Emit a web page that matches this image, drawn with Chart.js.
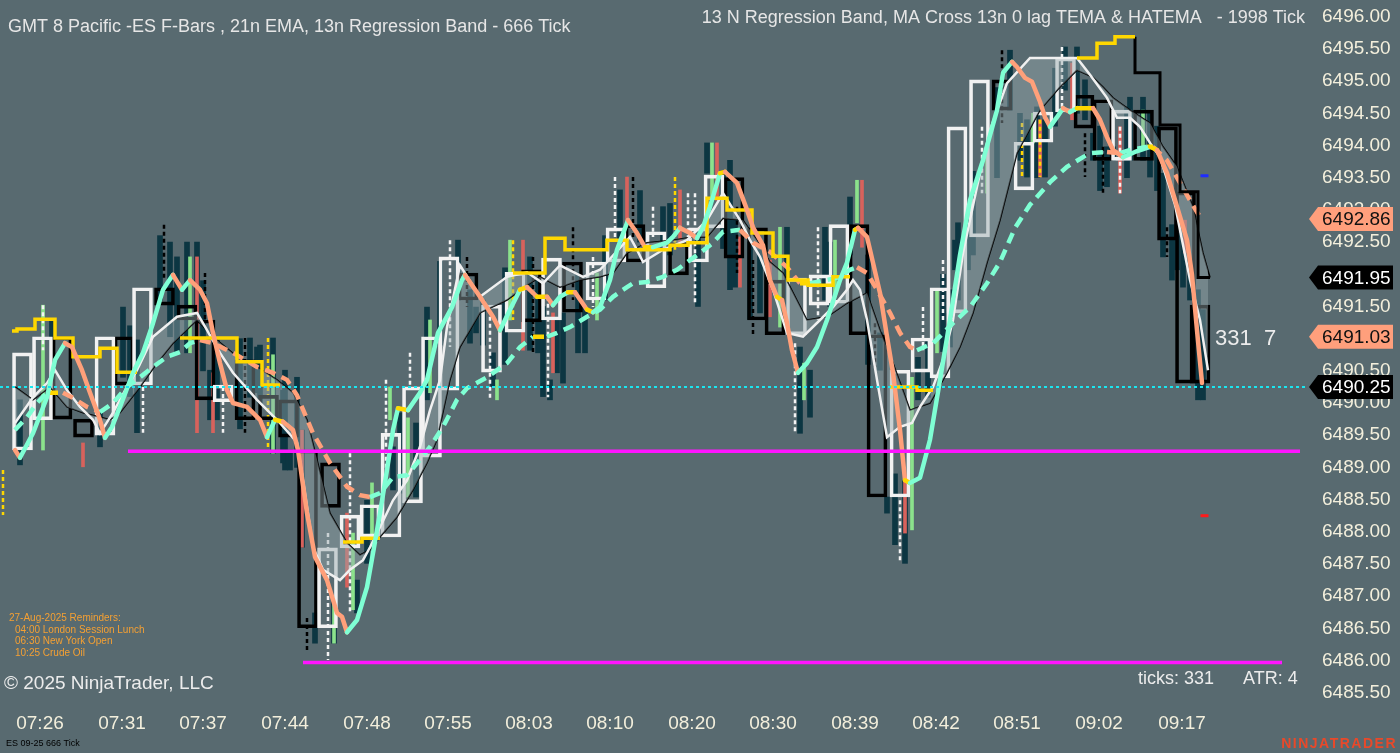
<!DOCTYPE html>
<html lang="en">
<head>
<meta charset="UTF-8">
<title>ES 09-25 666 Tick</title>
<script src="https://cdn.jsdelivr.net/npm/chart.js"></script>
<style>
  html, body { margin: 0; padding: 0; background: #586a70; overflow: hidden; }
  #wrap { width: 1400px; height: 753px; }
</style>
</head>
<body>
<div id="wrap"><canvas id="chart" width="1400" height="753"></canvas></div>
<script>
// ---- axes ----
const timeLabels = ['07:26', '07:31', '07:37', '07:44', '07:48', '07:55', '08:03', '08:10', '08:20', '08:30', '08:39', '08:42', '08:51', '09:02', '09:17'];
const timePos = [4.0, 12.2, 20.3, 28.5, 36.7, 44.8, 52.9, 61.0, 69.2, 77.3, 85.5, 93.6, 101.7, 109.9, 118.2];
const priceTicks = [6485.5, 6486, 6486.5, 6487, 6487.5, 6488, 6488.5, 6489, 6489.5, 6490, 6490.5, 6491, 6491.5, 6492, 6492.5, 6493, 6493.5, 6494, 6494.5, 6495, 6495.5, 6496];

// ---- 1998 tick bars (hollow bodies) ----
const boxX = [2.25, 4.25, 6.2, 8.35, 10.5, 12.4, 14.25, 16.45, 18.7, 20.5, 22.3, 24.5, 26.85, 28.85, 30.75, 33.05, 32.75, 35.0, 37.0, 39.1, 41.25, 43.15, 44.9, 46.8, 49.15, 51.5, 53.15, 55.15, 57.25, 59.6, 61.6, 63.5, 65.6, 67.85, 69.85, 71.4, 73.4, 75.75, 77.5, 79.65, 81.9, 83.9, 85.9, 87.7, 90.0, 92.1, 94.0, 95.7, 97.95, 100.2, 102.4, 104.3, 106.55, 108.4, 110.3, 112.15, 114.35, 116.75, 118.55, 120.0];
const boxOpen = [6489.27, 6489.74, 6491.03, 6489.75, 6489.50, 6491.03, 6490.28, 6491.79, 6491.52, 6491.29, 6490.02, 6490.67, 6490.12, 6490.05, 6489.27, 6489.07, 6486.51, 6487.75, 6487.92, 6487.92, 6488.45, 6489.16, 6490.20, 6492.02, 6490.48, 6491.10, 6492.07, 6491.29, 6492.19, 6491.60, 6492.19, 6492.77, 6491.79, 6492.49, 6492.19, 6492.72, 6493.50, 6492.72, 6491.91, 6491.06, 6491.52, 6491.55, 6492.77, 6491.06, 6488.54, 6490.48, 6490.39, 6491.40, 6492.58, 6495.02, 6493.31, 6494.05, 6494.52, 6494.78, 6494.71, 6493.77, 6494.55, 6494.29, 6493.28, 6491.52];
const boxClose = [6490.78, 6491.03, 6489.75, 6489.47, 6491.03, 6490.28, 6491.79, 6491.52, 6491.29, 6490.05, 6490.28, 6489.74, 6489.74, 6489.47, 6486.51, 6488.38, 6487.75, 6488.26, 6488.42, 6489.53, 6490.25, 6491.03, 6492.27, 6491.60, 6491.52, 6492.03, 6491.26, 6492.25, 6491.41, 6492.19, 6492.72, 6492.19, 6492.66, 6491.99, 6492.72, 6493.54, 6492.25, 6491.29, 6491.06, 6491.94, 6491.99, 6492.77, 6491.06, 6488.54, 6490.51, 6491.01, 6491.79, 6494.29, 6495.02, 6494.55, 6494.05, 6494.52, 6495.36, 6494.27, 6493.77, 6494.55, 6493.77, 6492.53, 6490.31, 6490.31];

// ---- 666 tick bars ----
const tickX = [2.0, 5.2, 10.0, 12.3, 13.7, 17.0, 17.7, 18.7, 19.7, 21.0, 21.7, 25.0, 25.7, 27.3, 28.5, 29.0, 28.3, 30.2, 31.5, 33.4, 35.7, 36.7, 39.3, 40.0, 41.6, 42.7, 45.8, 47.0, 47.6, 49.3, 53.0, 53.8, 55.0, 55.7, 56.3, 57.8, 58.5, 62.0, 66.3, 70.7, 73.0, 73.5, 76.0, 78.7, 80.0, 81.0, 82.5, 88.0, 88.7, 90.5, 91.8, 92.8, 95.0, 95.8, 95.5, 96.8, 101.0, 102.0, 102.7, 104.5, 106.5, 107.7, 108.5, 109.3, 110.7, 111.3, 113.0, 114.3, 115.0, 116.3, 117.7, 119.0, 119.8, 120.3, 117.2,
  13.0, 16.0, 20.3, 24.0, 26.0, 29.7, 44.0, 48.3, 50.5, 54.3, 60.5, 64.0, 67.0, 69.8, 72.3, 75.0, 83.0, 85.0, 86.8, 89.5, 94.3, 97.3, 99.7, 103.7, 105.5, 110.0, 112.7, 115.7, 118.3];
const tickHigh = [6490.05, 6491.29, 6489.85, 6491.49, 6490.98, 6492.50, 6492.27, 6492.50, 6492.50, 6490.51, 6490.98, 6491.01, 6490.87, 6491.01, 6490.51, 6489.27, 6490.20, 6489.58, 6486.74, 6486.99, 6487.25, 6488.49, 6489.32, 6489.85, 6489.69, 6491.49, 6492.53, 6491.76, 6491.49, 6490.78, 6492.27, 6491.91, 6490.36, 6491.29, 6491.40, 6492.02, 6491.49, 6493.31, 6493.05, 6494.04, 6493.77, 6492.84, 6492.38, 6492.73, 6490.87, 6490.51, 6492.73, 6491.09, 6488.54, 6488.80, 6490.71, 6490.98, 6491.76, 6492.80, 6492.53, 6492.84, 6495.48, 6494.50, 6494.40, 6494.40, 6495.53, 6495.53, 6495.02, 6494.19, 6493.98, 6493.98, 6494.75, 6494.75, 6494.50, 6493.57, 6492.64, 6492.22, 6491.76, 6491.45, 6492.77,
  6491.20, 6492.60, 6491.90, 6491.00, 6490.90, 6490.40, 6492.20, 6491.60, 6492.10, 6491.50, 6492.60, 6493.30, 6493.10, 6492.70, 6493.60, 6492.50, 6492.50, 6493.20, 6492.30, 6488.90, 6492.00, 6493.60, 6494.90, 6494.60, 6495.20, 6494.30, 6494.60, 6494.30, 6492.60];
const tickLow = [6489.04, 6489.94, 6489.32, 6490.40, 6489.54, 6491.03, 6490.78, 6490.78, 6491.29, 6489.74, 6489.74, 6490.09, 6490.16, 6489.22, 6488.96, 6488.96, 6489.07, 6487.76, 6486.27, 6486.27, 6486.74, 6487.51, 6488.65, 6488.60, 6488.54, 6490.05, 6491.60, 6490.93, 6491.09, 6490.25, 6490.82, 6490.78, 6490.05, 6490.47, 6490.31, 6490.78, 6490.78, 6492.53, 6492.38, 6493.57, 6491.76, 6491.80, 6491.40, 6491.18, 6489.53, 6489.78, 6491.60, 6490.51, 6488.29, 6487.51, 6490.05, 6490.09, 6490.87, 6491.60, 6492.07, 6492.07, 6494.55, 6493.77, 6493.51, 6493.51, 6494.86, 6494.50, 6494.40, 6493.77, 6493.36, 6493.77, 6493.77, 6493.77, 6493.51, 6492.27, 6492.07, 6491.60, 6490.05, 6490.05, 6491.91,
  6490.10, 6491.60, 6490.50, 6489.60, 6490.00, 6489.00, 6490.90, 6490.90, 6490.60, 6490.10, 6491.60, 6492.50, 6492.30, 6491.50, 6492.40, 6491.30, 6491.50, 6492.30, 6490.60, 6487.80, 6490.80, 6492.30, 6493.50, 6493.50, 6494.30, 6493.30, 6493.50, 6493.30, 6491.80];

const upX = [4.3, 19.0, 27.3, 33.4, 35.3, 37.2, 39.0, 40.8, 43.0, 49.7, 51.0, 59.7, 71.2, 78.0, 80.4, 83.5, 85.7, 91.2, 93.7, 98.7, 103.3, 114.3];
const upHigh = [6491.52, 6492.27, 6490.75, 6486.99, 6487.98, 6488.76, 6490.25, 6489.77, 6491.29, 6490.36, 6492.53, 6492.02, 6494.04, 6492.73, 6490.62, 6492.53, 6493.46, 6490.40, 6491.76, 6493.88, 6494.50, 6494.55];
const upLow = [6489.27, 6490.78, 6489.22, 6486.27, 6486.79, 6487.92, 6489.74, 6488.54, 6490.16, 6490.05, 6491.29, 6491.29, 6493.15, 6491.18, 6490.05, 6491.65, 6492.80, 6488.03, 6490.78, 6493.26, 6494.04, 6493.93];

const downX = [8.3, 19.7, 21.3, 30.2, 34.7, 52.3, 55.3, 62.7, 68.0, 71.7, 74.0, 77.0, 86.2, 90.5, 104.0, 107.2, 112.0, 118.5];
const downHigh = [6489.38, 6492.27, 6490.47, 6489.58, 6488.29, 6492.53, 6491.40, 6493.51, 6493.31, 6494.04, 6492.58, 6492.22, 6493.46, 6488.80, 6494.40, 6495.28, 6494.29, 6492.84];
const downLow = [6489.01, 6489.54, 6489.54, 6487.76, 6487.14, 6490.82, 6490.47, 6492.80, 6492.42, 6493.15, 6491.80, 6491.34, 6492.42, 6487.98, 6493.51, 6494.40, 6493.26, 6492.33];

// dashed wicks
const whiteWickX = [4.3, 14.3, 22.3, 32.8, 35.0, 38.6, 41.0, 45.0, 49.0, 54.8, 59.3, 61.5, 65.3, 68.8, 69.5, 79.5, 81.8, 90.0, 92.3, 94.3, 98.2, 106.2, 112.0];
const whiteWickHigh = [6491.52, 6490.25, 6490.25, 6487.98, 6489.22, 6490.36, 6490.78, 6492.53, 6491.34, 6491.65, 6492.27, 6493.51, 6493.05, 6493.26, 6493.26, 6490.93, 6492.73, 6488.49, 6491.49, 6492.22, 6494.29, 6495.53, 6494.29];
const whiteWickLow = [6490.82, 6489.54, 6489.54, 6486.01, 6486.74, 6488.96, 6490.25, 6490.87, 6490.05, 6490.09, 6491.49, 6492.53, 6492.58, 6492.38, 6491.55, 6489.53, 6491.29, 6487.51, 6490.82, 6491.29, 6493.26, 6494.60, 6493.26];
const blackWickX = [16.4, 20.5, 24.5, 30.7, 46.7, 53.3, 57.3, 63.3, 73.7, 75.3, 87.5, 100.2, 108.5, 110.3, 116.7];
const blackWickHigh = [6492.77, 6492.02, 6491.01, 6486.66, 6492.27, 6492.27, 6492.73, 6493.51, 6493.05, 6492.22, 6491.24, 6495.48, 6494.19, 6493.98, 6492.73];
const blackWickLow = [6491.91, 6491.29, 6489.54, 6486.16, 6491.49, 6490.78, 6491.60, 6492.53, 6492.02, 6491.03, 6490.56, 6494.35, 6493.51, 6493.26, 6492.27];
const goldWickX = [0.3, 26.8, 51.3, 67.5, 102.2, 104.0];
const goldWickHigh = [6488.96, 6491.01, 6492.53, 6493.51, 6494.35, 6494.40];
const goldWickLow = [6488.26, 6489.27, 6491.29, 6492.38, 6493.51, 6493.51];

// ---- TEMA (13n, 0 lag) ----
const temaX = [1.5, 2.0, 3.3, 4.7, 5.5, 6.5, 7.2, 8.2, 9.0, 10.0, 10.5, 11.2, 12.0, 13.3, 14.3, 15.3, 16.3, 16.8, 17.3, 18.2, 19.0, 20.0, 20.7, 21.3, 22.0, 22.7, 23.3, 24.7, 26.0, 26.7, 27.5, 28.3, 29.3, 29.8, 30.7, 31.5, 32.7, 33.7, 34.2, 34.7, 35.7, 36.7, 37.3, 38.0, 38.7, 39.3, 39.8, 40.8, 42.0, 42.7, 43.8, 45.2, 46.2, 46.5, 48.0, 49.3, 50.0, 51.0, 52.0, 52.7, 53.7, 54.7, 55.3, 56.0, 56.8, 57.5, 58.7, 59.3, 60.0, 61.0, 61.7, 62.8, 63.7, 64.5, 65.3, 66.7, 67.3, 68.0, 69.0, 69.7, 70.3, 71.0, 72.0, 72.5, 73.7, 74.7, 75.3, 76.3, 77.0, 77.7, 78.2, 78.7, 79.2, 79.8, 80.7, 81.7, 82.7, 84.0, 84.7, 85.5, 85.8, 86.7, 87.3, 88.0, 88.7, 89.3, 90.0, 90.5, 91.0, 92.0, 93.0, 94.0, 95.0, 96.0, 97.0, 98.3, 99.7, 100.3, 101.2, 101.7, 102.5, 103.2, 104.0, 104.5, 105.0, 105.7, 106.3, 107.0, 107.7, 109.3, 110.0, 110.7, 111.3, 112.3, 113.5, 115.0, 115.7, 116.7, 117.7, 118.7, 119.2, 119.7, 120.2];
const temaY = [6489.27, 6489.15, 6489.53, 6490.09, 6490.67, 6490.93, 6490.87, 6490.51, 6490.16, 6489.74, 6489.46, 6489.63, 6489.94, 6490.47, 6490.78, 6491.24, 6491.76, 6491.88, 6491.99, 6491.76, 6491.91, 6491.76, 6491.55, 6491.09, 6490.62, 6490.20, 6490.00, 6489.94, 6489.74, 6489.47, 6489.74, 6489.71, 6489.58, 6489.27, 6488.29, 6487.61, 6487.25, 6486.74, 6486.68, 6486.44, 6486.63, 6487.14, 6487.67, 6488.29, 6488.96, 6489.58, 6489.92, 6489.89, 6490.16, 6490.36, 6491.09, 6491.49, 6491.91, 6491.99, 6491.65, 6491.34, 6491.13, 6491.45, 6491.76, 6491.80, 6491.65, 6491.65, 6491.52, 6491.65, 6491.72, 6491.72, 6491.45, 6491.41, 6491.49, 6491.91, 6492.38, 6492.84, 6492.64, 6492.42, 6492.42, 6492.49, 6492.58, 6492.72, 6492.64, 6492.56, 6492.73, 6493.05, 6493.57, 6493.59, 6493.42, 6493.00, 6492.73, 6492.45, 6491.91, 6491.65, 6491.60, 6491.24, 6490.82, 6490.47, 6490.62, 6490.87, 6491.29, 6491.91, 6492.18, 6492.69, 6492.72, 6492.58, 6492.18, 6491.71, 6491.03, 6490.47, 6489.58, 6488.80, 6488.76, 6488.84, 6489.43, 6490.36, 6491.29, 6492.30, 6493.15, 6493.77, 6494.55, 6495.13, 6495.30, 6495.22, 6495.05, 6494.99, 6494.68, 6494.44, 6494.29, 6494.44, 6494.58, 6494.52, 6494.58, 6494.58, 6494.40, 6494.13, 6493.93, 6493.82, 6493.90, 6493.98, 6493.93, 6493.57, 6493.05, 6492.53, 6491.99, 6491.13, 6490.31];

// ---- 21n EMA ----
const emaX = [1.5, 2.7, 3.7, 4.7, 6.3, 7.3, 8.7, 10.0, 11.3, 12.7, 14.0, 15.3, 16.7, 18.0, 19.0, 20.0, 21.3, 23.3, 25.7, 27.3, 28.7, 29.7, 31.3, 33.0, 34.7, 36.0, 37.0, 38.0, 39.3, 40.7, 42.0, 43.0, 44.3, 45.7, 46.7, 48.7, 50.7, 52.0, 53.3, 54.7, 55.7, 57.0, 58.7, 60.0, 61.3, 62.7, 63.3, 64.7, 66.3, 67.7, 69.0, 70.0, 71.3, 72.3, 74.0, 75.3, 77.0, 78.7, 80.0, 81.0, 82.7, 84.0, 85.0, 85.7, 86.7, 87.7, 89.0, 90.0, 91.0, 91.7, 93.3, 95.3, 97.0, 98.7, 100.0, 101.5, 103.0, 105.0, 106.7, 108.3, 109.0, 110.7, 112.0, 113.0, 114.7, 115.3, 116.7, 118.0, 119.0, 120.0];
const emaY = [6489.58, 6489.78, 6490.00, 6490.16, 6490.16, 6490.08, 6489.94, 6489.86, 6490.00, 6490.25, 6490.40, 6490.56, 6490.72, 6490.79, 6490.93, 6490.98, 6490.93, 6490.78, 6490.56, 6490.47, 6490.36, 6490.12, 6489.53, 6489.07, 6488.70, 6488.57, 6488.54, 6488.60, 6488.85, 6488.88, 6489.12, 6489.32, 6489.63, 6490.05, 6490.23, 6490.40, 6490.62, 6490.87, 6491.03, 6491.03, 6491.09, 6491.18, 6491.34, 6491.45, 6491.65, 6491.80, 6491.86, 6491.88, 6491.96, 6492.07, 6492.22, 6492.33, 6492.49, 6492.66, 6492.69, 6492.49, 6492.35, 6492.11, 6491.86, 6491.86, 6491.91, 6491.96, 6492.07, 6492.11, 6492.02, 6491.76, 6491.40, 6491.09, 6490.87, 6490.82, 6490.93, 6491.24, 6491.49, 6491.86, 6492.19, 6492.72, 6493.08, 6493.43, 6493.67, 6493.82, 6493.88, 6493.90, 6493.88, 6493.93, 6493.98, 6493.98, 6493.77, 6493.42, 6493.15, 6492.89];

// ---- regression band lines ----
const regX = [1.5, 3.3, 4.7, 5.5, 6.7, 8.0, 9.3, 10.0, 11.3, 12.7, 13.7, 15.3, 17.7, 19.7, 20.3, 22.0, 23.3, 25.7, 27.7, 29.7, 30.3, 31.3, 32.3, 34.0, 35.0, 36.3, 37.0, 38.0, 39.3, 40.7, 42.0, 43.0, 44.0, 44.7, 46.0, 48.0, 50.7, 52.7, 54.3, 56.0, 58.3, 60.0, 63.0, 63.7, 64.3, 66.3, 68.7, 70.7, 72.3, 74.0, 75.0, 76.0, 77.3, 78.7, 80.3, 82.0, 83.3, 84.7, 85.3, 86.0, 86.7, 87.7, 88.7, 90.0, 91.2, 92.0, 93.3, 94.3, 95.3, 96.3, 97.7, 99.0, 100.7, 103.0, 106.0, 107.7, 109.0, 110.7, 111.7, 113.0, 114.0, 115.0, 116.0, 117.5, 119.0, 120.0, 120.8];
const regY = [6489.69, 6490.09, 6490.31, 6490.51, 6490.20, 6489.94, 6489.74, 6489.53, 6489.85, 6490.25, 6490.51, 6491.03, 6491.34, 6491.40, 6491.24, 6490.78, 6490.47, 6490.05, 6489.74, 6489.39, 6488.80, 6487.76, 6487.41, 6487.25, 6487.41, 6487.56, 6487.76, 6488.07, 6488.49, 6488.80, 6489.32, 6489.89, 6490.36, 6491.18, 6492.14, 6491.65, 6491.96, 6492.03, 6491.86, 6492.14, 6491.96, 6492.07, 6492.58, 6492.38, 6492.19, 6492.38, 6492.53, 6492.84, 6493.26, 6492.84, 6492.53, 6492.27, 6491.76, 6491.09, 6491.03, 6491.29, 6491.49, 6491.76, 6491.91, 6491.76, 6491.29, 6490.36, 6489.47, 6489.63, 6489.69, 6489.94, 6490.25, 6490.67, 6491.29, 6492.33, 6493.36, 6494.24, 6494.97, 6495.36, 6495.36, 6495.36, 6495.10, 6494.74, 6494.43, 6494.43, 6494.29, 6494.04, 6493.82, 6493.08, 6491.91, 6491.29, 6490.51];
const slowX = [1.5, 3.3, 5.0, 6.7, 8.3, 11.0, 12.0, 14.0, 15.7, 17.3, 19.7, 21.3, 23.7, 25.7, 27.7, 29.3, 30.7, 31.7, 33.0, 34.7, 36.0, 37.0, 38.0, 39.7, 41.3, 42.7, 43.7, 45.0, 46.0, 48.0, 50.7, 52.7, 54.0, 56.0, 58.0, 60.0, 61.3, 62.7, 64.7, 67.3, 69.3, 70.7, 72.3, 74.3, 75.7, 77.0, 78.3, 80.7, 82.7, 84.7, 86.7, 88.0, 89.3, 91.0, 93.0, 94.7, 96.0, 97.3, 98.7, 100.0, 101.7, 104.0, 106.0, 107.7, 109.3, 110.3, 111.3, 113.0, 115.0, 116.3, 117.7, 119.3, 120.3, 121.0];
const slowY = [6490.25, 6490.05, 6490.25, 6489.94, 6489.85, 6489.74, 6489.85, 6490.25, 6490.62, 6490.93, 6491.29, 6491.03, 6490.72, 6490.56, 6490.36, 6490.16, 6489.74, 6489.12, 6488.29, 6487.83, 6487.64, 6487.72, 6487.92, 6488.23, 6488.65, 6489.07, 6489.43, 6490.36, 6490.87, 6491.40, 6491.60, 6491.83, 6491.96, 6491.80, 6491.91, 6491.96, 6492.02, 6492.33, 6492.49, 6492.53, 6492.58, 6492.58, 6492.87, 6492.84, 6492.53, 6492.19, 6492.02, 6491.29, 6491.34, 6491.55, 6491.71, 6491.13, 6490.62, 6489.89, 6490.00, 6490.47, 6490.87, 6491.40, 6492.18, 6492.84, 6493.88, 6494.55, 6494.91, 6495.17, 6495.06, 6494.91, 6494.74, 6494.55, 6494.35, 6493.98, 6493.67, 6493.05, 6492.33, 6491.95];

// ---- HATEMA step ----
const stepX = [1.2, 1.7, 3.5, 5.5, 7.3, 10.0, 11.7, 13.7, 13.8, 18.0, 23.7, 26.2, 28.0, 28.1, 34.3, 36.2, 38.0, 38.1, 51.3, 54.5, 56.5, 60.7, 62.7, 67.0, 68.8, 70.7, 72.7, 75.2, 77.3, 78.8, 80.8, 83.3, 85.0, 85.1, 89.0, 91.7, 93.3, 93.4, 107.7, 109.7, 111.5, 113.5];
const stepY = [6491.12, 6491.15, 6491.30, 6491.01, 6490.72, 6490.85, 6490.48, 6490.48, null, 6491.01, 6490.64, 6490.28, 6490.28, null, 6487.84, 6487.90, 6487.90, null, 6492.02, 6492.56, 6492.38, 6492.53, 6492.38, 6492.45, 6492.49, 6493.18, 6493.00, 6492.64, 6492.28, 6491.91, 6491.83, 6491.96, 6491.96, null, 6490.25, 6490.20, 6490.20, null, 6495.36, 6495.59, 6495.69, 6495.69];
const stepTailX = [113.5, 113.5, 116.0, 118.0, 119.8, 121.0];
const stepTailY = [6495.69, 6495.13, 6494.32, 6493.28, 6491.95, 6491.95];

// ---- levels and price tags ----
const lastPrice = 6490.25;
const magentaLevels = [6489.25, 6485.97];
const magentaFrom = [12.8, 30.3];
const magentaTo = [130.0, 128.2];
const tagValues = [6492.86, 6491.95, 6491.03, 6490.25];
const tagKinds = ['salmon', 'black', 'salmon', 'black'];
const targetX = 120.45;
const targetUp = 6493.53;
const targetDown = 6488.25;

const AQUA = '#7fffd4', SALMON = '#ffa07a', GOLD = '#ffd700';
const FONT = '"Liberation Sans", Arial, sans-serif';
Chart.defaults.font.family = FONT;

const slopeColor = th => ctx => {
  const d = ctx.p1.parsed.y - ctx.p0.parsed.y;
  return d > th ? AQUA : d < -th ? SALMON : GOLD;
};
const pts = (xs, ys) => xs.map((x, i) => ({ x, y: ys[i] }));
const ranges = (xs, lo, hi) => xs.map((x, i) => ({ x, y: [lo[i], hi[i]] }));
const wicks = (xs, hi, lo) => {
  const out = [];
  xs.forEach((x, i) => { out.push({ x, y: hi[i] }, { x, y: lo[i] }, { x, y: null }); });
  return out;
};

const upBoxes = [], downBoxes = [];
boxX.forEach((x, i) => {
  const b = { x, y: [boxOpen[i], boxClose[i]] };
  (boxClose[i] >= boxOpen[i] ? upBoxes : downBoxes).push(b);
});

const barBase = { type: 'bar', grouped: false, borderSkipped: false };
const lineBase = { type: 'line', pointRadius: 0, tension: 0, fill: false, spanGaps: false };

const datasets = [
  { ...barBase, data: ranges(tickX, tickLow, tickHigh), backgroundColor: '#0c3642', barThickness: 5, borderWidth: 0, order: 20 },
  { ...barBase, data: ranges(upX, upLow, upHigh), backgroundColor: '#8be28c', barThickness: 3, borderWidth: 0, order: 19 },
  { ...barBase, data: ranges(downX, downLow, downHigh), backgroundColor: '#d8625c', barThickness: 3, borderWidth: 0, order: 19 },
  { ...lineBase, data: wicks(whiteWickX, whiteWickHigh, whiteWickLow), borderColor: '#f4f4f4', borderWidth: 2.5, borderDash: [4, 3], order: 18 },
  { ...lineBase, data: wicks(blackWickX, blackWickHigh, blackWickLow), borderColor: '#000000', borderWidth: 2.5, borderDash: [4, 3], order: 18 },
  { ...lineBase, data: wicks(goldWickX, goldWickHigh, goldWickLow), borderColor: GOLD, borderWidth: 2.5, borderDash: [4, 3], order: 18 },
  { ...barBase, data: upBoxes, backgroundColor: 'rgba(0,0,0,0)', borderColor: '#f2f2f2', borderWidth: 3, barThickness: 20, order: 15 },
  { ...barBase, data: downBoxes, backgroundColor: 'rgba(0,0,0,0)', borderColor: '#000000', borderWidth: 3, barThickness: 20, order: 15 },
  // index 8: slow regression line (black)
  { ...lineBase, data: pts(slowX, slowY), borderColor: '#000000', borderWidth: 1.5, order: 9 },
  // index 9: regression line (white), band shaded down to the slow line
  { ...lineBase, data: pts(regX, regY), borderColor: '#f0f0f0', borderWidth: 2.5, order: 8,
    fill: { target: 8 }, backgroundColor: 'rgba(150,168,174,0.45)' },
  { ...lineBase, data: pts(emaX, emaY), borderColor: AQUA, borderWidth: 4.5, borderDash: [11, 7],
    segment: { borderColor: slopeColor(0.015) }, order: 7 },
  { ...lineBase, data: pts(stepX, stepY), stepped: 'before', borderColor: GOLD, borderWidth: 3.5, order: 6 },
  { ...lineBase, data: pts(stepTailX, stepTailY), stepped: 'before', borderColor: '#000000', borderWidth: 3, order: 6 },
  { ...lineBase, data: pts(temaX, temaY), borderColor: AQUA, borderWidth: 4.5, borderJoinStyle: 'round', borderCapStyle: 'round',
    segment: { borderColor: slopeColor(0.05) }, order: 3 },
  { ...lineBase, data: [{ x: 0, y: lastPrice }, { x: 130.5, y: lastPrice }], borderColor: '#19e6f0', borderWidth: 2, borderDash: [3, 3], order: 2 },
  ...magentaLevels.map((v, i) => ({ ...lineBase, data: [{ x: magentaFrom[i], y: v }, { x: magentaTo[i], y: v }], borderColor: '#ff14ff', borderWidth: 3.5, order: 1 })),
  { ...lineBase, showLine: false, data: [{ x: targetX, y: targetUp }], pointRadius: 4, pointStyle: 'line', pointBorderColor: '#1f2cff', pointBorderWidth: 3, order: 0 },
  { ...lineBase, showLine: false, data: [{ x: targetX, y: targetDown }], pointRadius: 4, pointStyle: 'line', pointBorderColor: '#ff1a1a', pointBorderWidth: 3, order: 0 }
];

const background = {
  id: 'background',
  beforeDraw(chart) {
    const c = chart.ctx;
    c.save();
    c.fillStyle = '#586a70';
    c.fillRect(0, 0, chart.width, chart.height);
    c.restore();
  }
};

const overlay = {
  id: 'overlay',
  afterDraw(chart) {
    const c = chart.ctx;
    const y = chart.scales.y;
    c.save();
    c.textBaseline = 'middle';

    // price tags on the axis
    c.font = '19px ' + FONT;
    tagValues.forEach((v, i) => {
      const py = y.getPixelForValue(v);
      c.fillStyle = tagKinds[i] === 'salmon' ? '#ff9f7c' : '#000000';
      c.beginPath();
      c.moveTo(1309, py);
      c.lineTo(1318, py - 12);
      c.lineTo(1393, py - 12);
      c.lineTo(1393, py + 12);
      c.lineTo(1318, py + 12);
      c.closePath();
      c.fill();
      c.fillStyle = tagKinds[i] === 'salmon' ? '#111111' : '#ffffff';
      c.textAlign = 'left';
      c.fillText(v.toFixed(2), 1322, py + 1);
    });

    // headers and notes
    c.fillStyle = '#e6e6e6';
    c.font = '18px ' + FONT;
    c.textAlign = 'left';
    c.fillText('GMT 8 Pacific -ES F-Bars , 21n EMA, 13n Regression Band - 666 Tick', 8, 27);
    c.textAlign = 'right';
    c.fillText('13 N Regression Band, MA Cross 13n 0 lag TEMA & HATEMA   - 1998 Tick', 1305, 18);

    c.textAlign = 'left';
    c.font = '22px ' + FONT;
    c.fillStyle = '#ececec';
    c.fillText('331  7', 1215, 339);

    c.font = '19px ' + FONT;
    c.fillStyle = '#ececec';
    c.fillText('\u00a9 2025 NinjaTrader, LLC', 4, 684);
    c.font = '18px ' + FONT;
    c.fillText('ticks: 331', 1138, 679);
    c.fillText('ATR: 4', 1243, 679);

    c.font = '10px ' + FONT;
    c.fillStyle = '#f5a033';
    c.fillText('27-Aug-2025 Reminders:', 9, 618);
    c.fillText('04:00 London Session Lunch', 15, 630);
    c.fillText('06:30 New York Open', 15, 641);
    c.fillText('10:25 Crude Oil', 15, 653);

    c.font = '9px ' + FONT;
    c.fillStyle = '#000000';
    c.fillText('ES 09-25 666 Tick', 6, 744);

    c.font = 'bold 14px ' + FONT;
    c.fillStyle = '#e8492a';
    c.textAlign = 'right';
    if ('letterSpacing' in c) c.letterSpacing = '1.5px';
    c.fillText('NINJATRADER', 1397, 744);
    c.restore();
  }
};

const noPad = s => { s.paddingTop = 0; s.paddingBottom = 0; s.paddingLeft = 0; s.paddingRight = 0; };

new Chart(document.getElementById('chart'), {
  type: 'bar',
  data: { datasets },
  options: {
    responsive: false,
    animation: false,
    devicePixelRatio: 1,
    layout: { padding: 0, autoPadding: false },
    plugins: { legend: { display: false }, tooltip: { enabled: false } },
    scales: {
      x: {
        type: 'linear',
        min: 0,
        max: 130.5,
        offset: false,
        grid: { display: false, drawTicks: false },
        border: { display: false },
        afterFit: s => { s.height = 48; noPad(s); },
        afterBuildTicks: s => { s.ticks = timePos.map(v => ({ value: v })); },
        ticks: {
          autoSkip: false,
          maxRotation: 0,
          padding: 7,
          color: '#f3efdc',
          font: { size: 19 },
          callback: (v, i) => timeLabels[i]
        }
      },
      y: {
        type: 'linear',
        position: 'right',
        min: 6485.31,
        max: 6496.26,
        grid: { display: false, drawTicks: false },
        border: { display: false },
        afterFit: s => { s.width = 95; noPad(s); },
        afterBuildTicks: s => { s.ticks = priceTicks.map(v => ({ value: v })); },
        ticks: {
          autoSkip: false,
          padding: 17,
          color: '#f3efdc',
          font: { size: 19 },
          callback: v => Number(v).toFixed(2)
        }
      }
    }
  },
  plugins: [background, overlay]
});
</script>
</body>
</html>
